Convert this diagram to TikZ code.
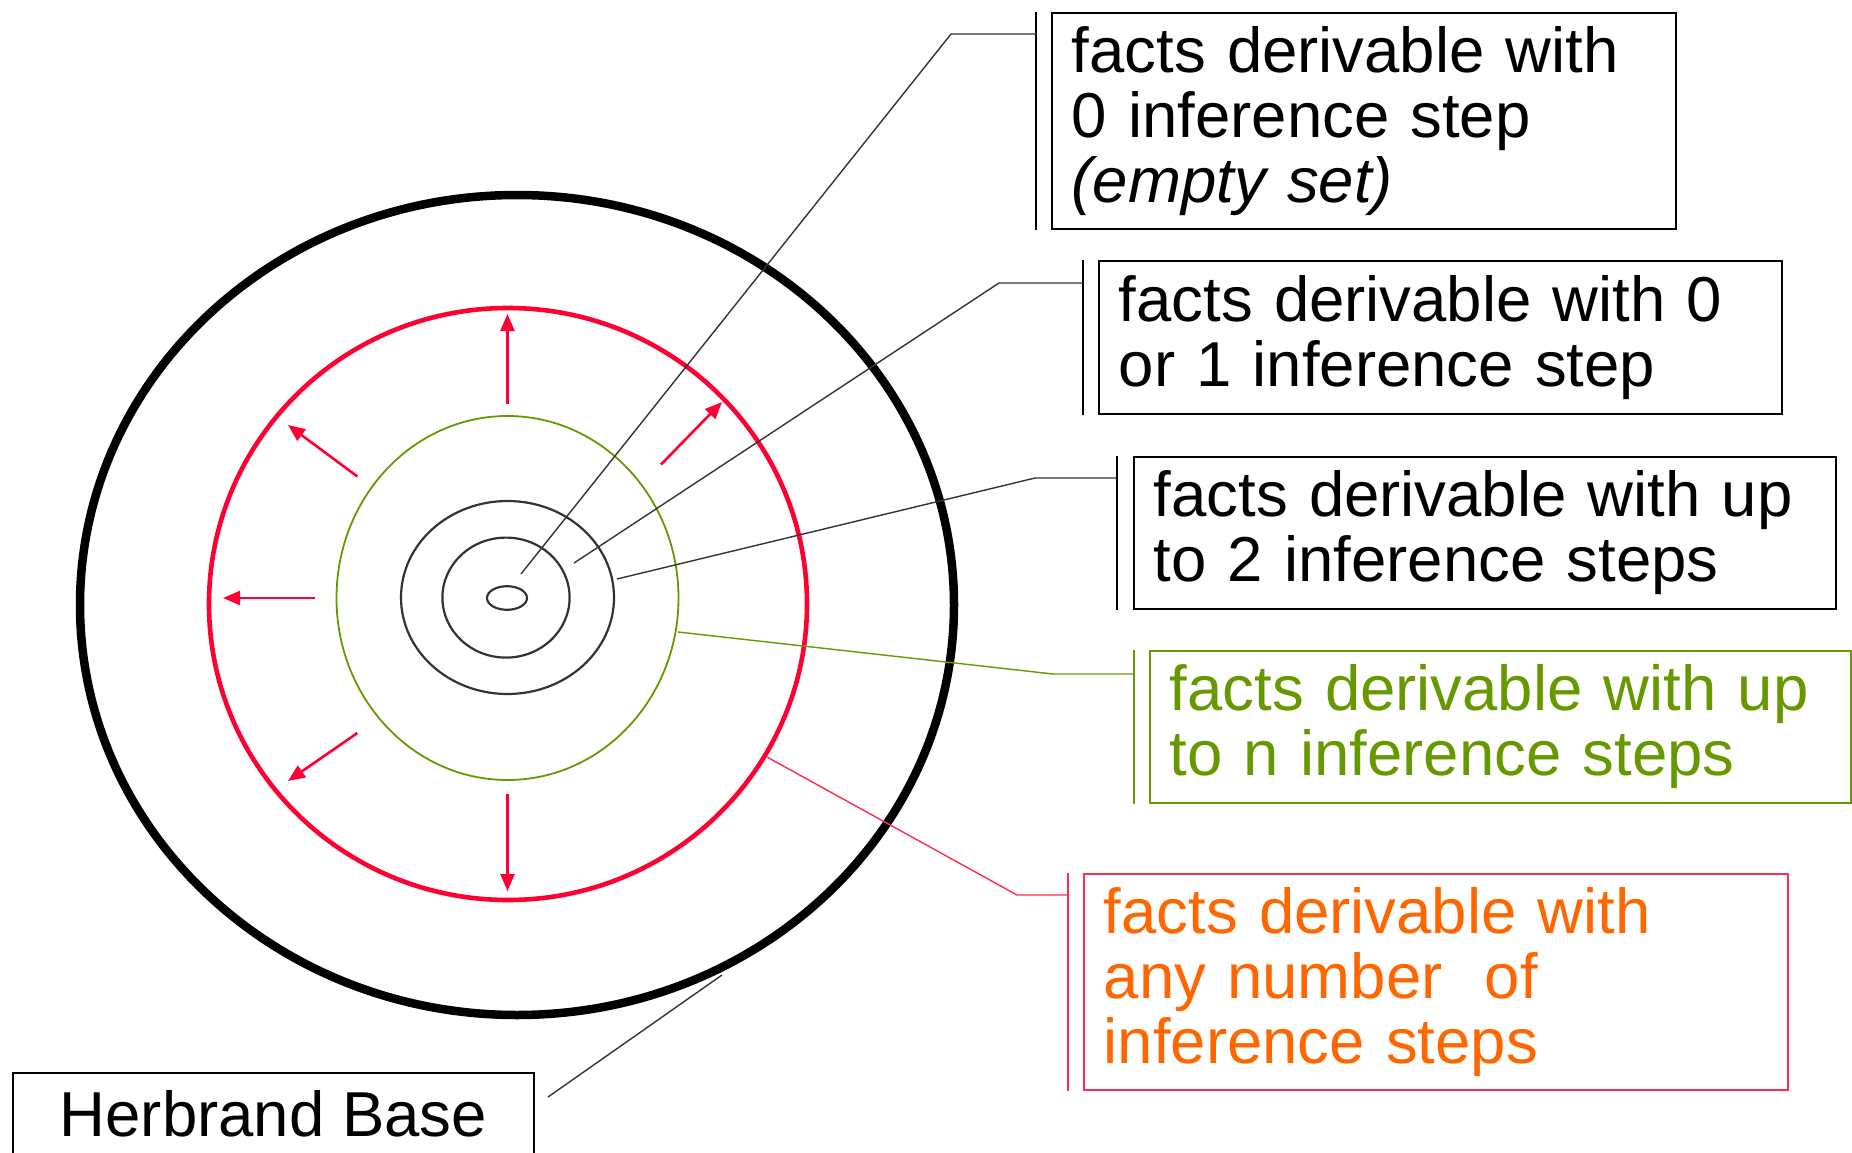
\documentclass[tikz,border=0pt]{standalone}
\usepackage{fontspec}
\setmainfont{Liberation Sans}
\usetikzlibrary{arrows.meta}
\definecolor{ringred}{HTML}{FF0033}
\definecolor{boxred}{HTML}{FF2A55}
\definecolor{leafgreen}{HTML}{669900}
\definecolor{txtorange}{HTML}{FF6600}
\definecolor{leadgray}{HTML}{333333}
\begin{document}
\begin{tikzpicture}[x=1pt,y=-1pt,
  lblbox/.style={draw, line width=1.6pt, anchor=north west, align=left, inner xsep=20pt, inner ysep=0pt,
    font=\fontsize{63.5}{65}\selectfont},
  leadline/.style={line width=1.4pt, draw=leadgray},
  accentbar/.style={line width=1.6pt},
  growarrow/.style={ringred, line width=2.6pt, -{Triangle[length=17pt,width=14pt]}}]
\useasboundingbox (0,0) rectangle (1852,1153);
\fill[white] (0,0) rectangle (1852,1153);

% rings
\draw[line width=8.5pt] (517,605) ellipse [x radius=437, y radius=410];
\draw[ringred, line width=4.6pt] (508,604) ellipse [x radius=299, y radius=296];
\draw[leafgreen, line width=1.8pt] (507.5,598) ellipse [x radius=171, y radius=182];
\draw[leadgray, line width=2.2pt] (507.5,597.5) ellipse [x radius=106.5, y radius=96.5];
\draw[leadgray, line width=2.2pt] (506,597.6) ellipse [x radius=63.6, y radius=60];
\draw[leadgray, line width=2.2pt] (507,598) ellipse [x radius=20, y radius=11.8];

% growth arrows
\coordinate (u0) at (507.5,403.5); \coordinate (u1) at (507.5,314);
\coordinate (ur0) at (661,464.5); \coordinate (ur1) at (722,402);
\coordinate (ul0) at (357.4,476.5); \coordinate (ul1) at (288,425);
\coordinate (l0) at (315,598); \coordinate (l1) at (223,598);
\coordinate (dl0) at (357.4,733); \coordinate (dl1) at (288,781);
\coordinate (d0) at (507.5,794); \coordinate (d1) at (507.5,891);
\foreach \a in {u,ur,ul,l,dl,d} \draw[growarrow] (\a0) -- (\a1);

% label boxes
\node[lblbox, text width=584pt, minimum height=216pt] (b1) at (1051,12)
  {facts derivable with\\0 inference step\\\textit{(empty set)}};
\node[lblbox, text width=643pt, minimum height=153pt] (b2) at (1098,260)
  {facts derivable with 0\\or 1 inference step};
\node[lblbox, text width=662pt, minimum height=152pt] (b3) at (1133,456)
  {facts derivable with up\\to 2 inference steps};
\node[lblbox, draw=leafgreen, text=leafgreen, text width=661pt, minimum height=152pt] (b4) at (1149,650)
  {facts derivable with up\\to n inference steps};
\node[lblbox, draw=boxred, text=txtorange, text width=664pt, minimum height=216pt] (b5) at (1083,873)
  {facts derivable with\\any number\ \ of\\inference steps};
\node[draw, line width=1.6pt, anchor=north west, minimum width=521pt, inner ysep=17pt,
  text height=47pt, text depth=70pt, font=\fontsize{63.5}{65}\selectfont] (hb) at (12,1072) {Herbrand Base};

% accent bars
\draw[accentbar] ([xshift=-15pt]b1.north west) -- ([xshift=-15pt]b1.south west);
\draw[accentbar] ([xshift=-15pt]b2.north west) -- ([xshift=-15pt]b2.south west);
\draw[accentbar] ([xshift=-16pt]b3.north west) -- ([xshift=-16pt]b3.south west);
\draw[accentbar, leafgreen] ([xshift=-15pt]b4.north west) -- ([xshift=-15pt]b4.south west);
\draw[accentbar, boxred] ([xshift=-15pt]b5.north west) -- ([xshift=-15pt]b5.south west);

% leader lines
\coordinate (s1) at (521,574);  \coordinate (k1) at (951,34);  \coordinate (e1) at (1036,34);
\coordinate (s2) at (574,563);  \coordinate (k2) at (999,283); \coordinate (e2) at (1083,283);
\coordinate (s3) at (617,579);  \coordinate (k3) at (1035,478);\coordinate (e3) at (1117,478);
\coordinate (s4) at (678,632);  \coordinate (k4) at (1053,674);\coordinate (e4) at (1134,674);
\coordinate (s5) at (767,757);  \coordinate (k5) at (1017,895);\coordinate (e5) at (1068,895);
\coordinate (s6) at (722,975);  \coordinate (e6) at (548,1097);
\draw[leadline] (s1) -- (k1) -- (e1);
\draw[leadline] (s2) -- (k2) -- (e2);
\draw[leadline] (s3) -- (k3) -- (e3);
\draw[leadline, draw=leafgreen] (s4) -- (k4) -- (e4);
\draw[leadline, draw=boxred] (s5) -- (k5) -- (e5);
\draw[leadline] (s6) -- (e6);
\end{tikzpicture}
\end{document}
